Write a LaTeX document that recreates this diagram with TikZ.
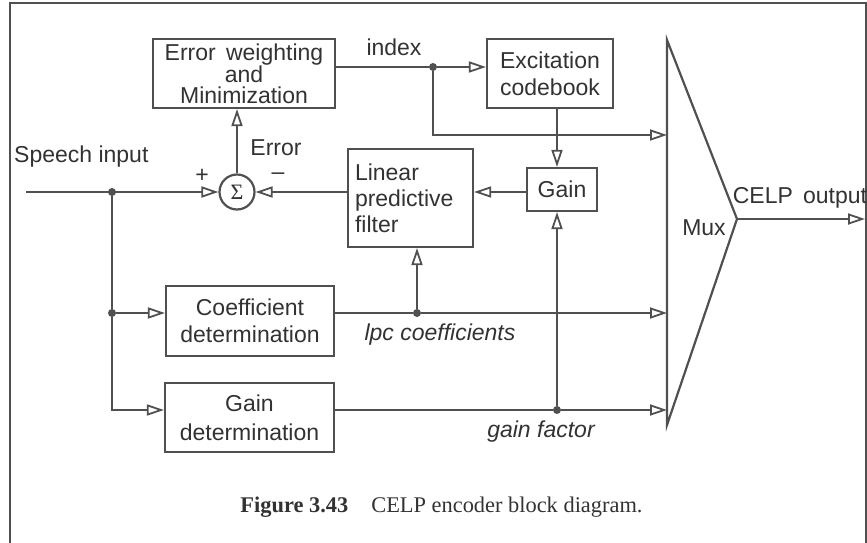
\documentclass[tikz,border=0pt]{standalone}
\usepackage{fontspec}
\setmainfont{Liberation Serif}
\setsansfont{Liberation Sans}
\usetikzlibrary{arrows.meta}
\definecolor{ln}{RGB}{80,80,80}
\definecolor{tx}{RGB}{50,50,50}
\begin{document}
\begin{tikzpicture}[x=1pt,y=-1pt,
  ar/.style={-{Triangle[open,length=17pt,width=11pt,line width=1.8pt]}},
  wire/.style={draw=ln,line width=2.2pt},
  blk/.style={draw=ln,line width=2.2pt,inner sep=0pt,font=\sffamily\fontsize{23}{27}\selectfont,text=tx,align=center},
  lbl/.style={font=\sffamily\fontsize{23}{27}\selectfont,text=tx,inner sep=0pt},
  dotn/.style={circle,fill=ln,inner sep=0pt,minimum size=8pt}]
\useasboundingbox (0,0) rectangle (867,543);
% frame
\draw[ln,line width=1.8pt] (10,543) -- (10,3) -- (866,3) -- (866,543);
% blocks
\node[blk,minimum width=182pt,minimum height=69pt,font=\sffamily\fontsize{23}{21}\selectfont] (errw) at (244,73.5) {Error\, weighting\\and\\Minimization};
\node[blk,minimum width=126pt,minimum height=69pt] (excb) at (550,73.5) {Excitation\\codebook};
\node[blk,minimum width=70pt,minimum height=43pt] (gain) at (562,189.5) {Gain};
\node[blk,minimum width=125pt,minimum height=98pt,align=left,text width=111pt,font=\sffamily\fontsize{23}{26}\selectfont] (lpf) at (410.5,198) {Linear\\predictive\\filter};
\node[blk,minimum width=168pt,minimum height=70pt] (coef) at (250,321) {Coefficient\\determination};
\node[blk,minimum width=169pt,minimum height=69pt,font=\sffamily\fontsize{23}{29}\selectfont] (gaind) at (249.5,417.5) {Gain\\determination};
\node[draw=ln,line width=2.2pt,circle,minimum size=35pt,inner sep=0pt,text=tx,font=\rmfamily\fontsize{22}{22}\selectfont] (sum) at (237,192) {Σ};
% mux
\coordinate (muxT) at (667,40);
\coordinate (muxA) at (737,219);
\coordinate (muxB) at (667,425);
\draw[wire,line join=miter] (muxT) -- (muxA) -- (muxB) -- cycle;
\coordinate (out) at (865,219);
\coordinate (m1) at (667,135);
\coordinate (m2) at (667,313);
\coordinate (m3) at (667,410);
\coordinate (sin) at (26,192);
% junctions
\node[dotn] (j1) at (112,192) {};
\node[dotn] (j2) at (112,313) {};
\node[dotn] (j3) at (433,67) {};
\node[dotn] (j4) at (417,313) {};
\node[dotn] (j5) at (557,410) {};
% connectors
\draw[wire,ar] (sin) -- (sum.west);
\draw[wire] (j1) -- (j2);
\draw[wire,ar] (j2) |- (gaind.west |- m3);
\draw[wire,ar] (j2) -- (j2 -| coef.west);
\draw[wire,ar] (sum.north) -- (sum.north |- errw.south);
\draw[wire] (errw.east |- j3) -- (j3);
\draw[wire,ar] (j3) -- (excb.west |- j3);
\draw[wire,ar] (j3) |- (m1);
\draw[wire,ar] (excb.south -| j5) -- (gain.north -| j5);
\draw[wire,ar] (gain.west |- sum) -- (lpf.east |- sum);
\draw[wire,ar] (lpf.west |- sum) -- (sum.east);
\draw[wire] (coef.east |- j2) -- (j4);
\draw[wire,ar] (j4) -- (m2);
\draw[wire,ar] (j4) -- (j4 |- lpf.south);
\draw[wire] (gaind.east |- m3) -- (j5);
\draw[wire,ar] (j5) -- (m3);
\draw[wire,ar] (j5) -- (j5 |- gain.south);
\draw[wire,ar] (muxA) -- (out);
% labels
\node[lbl,anchor=west] (lsp) at (14,157) {Speech input};
\node[lbl] (lplus) at (202,176) {+};
\node[lbl] (lminus) at (278,176) {\textendash};
\node[lbl] (lerr) at (276,148) {Error};
\node[lbl] (lidx) at (394,47) {index};
\node[lbl] (lmux) at (704,228) {Mux};
\node[lbl] (lcelp) at (800,198) {CELP\, output};
\node[lbl,font=\sffamily\itshape\fontsize{23}{27}\selectfont] (llpc) at (440,335) {lpc coefficients};
\node[lbl,font=\sffamily\itshape\fontsize{23}{27}\selectfont] (lgf) at (541,432) {gain factor};
\node[text=tx,inner sep=0pt,font=\fontsize{22.4}{26}\selectfont] (cap) at (441.5,507) {\textbf{Figure 3.43}\hspace{23pt}CELP encoder block diagram.};
\end{tikzpicture}
\end{document}
